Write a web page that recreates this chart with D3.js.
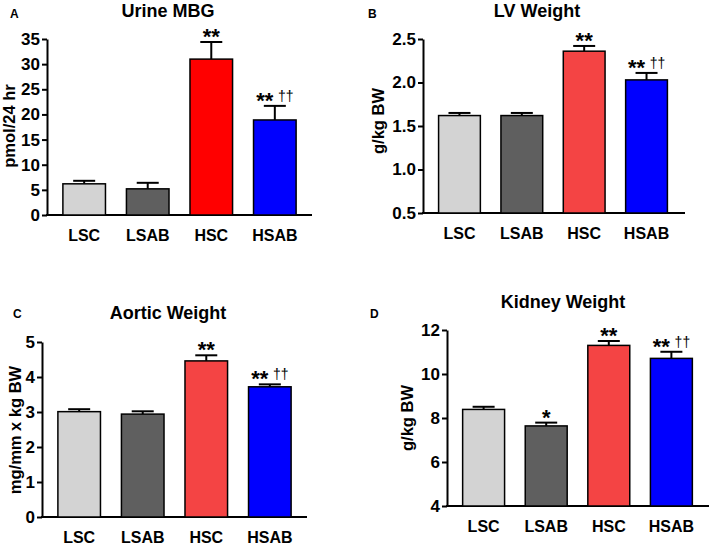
<!DOCTYPE html>
<html>
<head>
<meta charset="utf-8">
<script src="https://cdn.jsdelivr.net/npm/d3@7"></script>
<style>
  body { margin: 0; background: #fff; }
  svg { display: block; font-family: "Liberation Sans", Arial, sans-serif; }
  .axis path, .axis line { stroke: #000; stroke-width: 2px; }
  .axis text { font-size: 17px; font-weight: bold; fill: #000; font-family: "Liberation Sans", Arial, sans-serif; }
  .axis.x text { font-size: 16px; }
</style>
</head>
<body>
<svg width="709" height="550"></svg>
<script>
const grupos = ["LSC", "LSAB", "HSC", "HSAB"];

// valores (media e topo da barra de erro)
const urina_mbg     = [6.2, 5.2, 31.0, 18.9];
const urina_mbg_err = [6.8, 6.4, 34.4, 21.7];
const peso_vent     = [1.62, 1.62, 2.36, 2.03];
const peso_vent_err = [1.65, 1.65, 2.42, 2.11];
const peso_aorta     = [3.01, 2.94, 4.46, 3.72];
const peso_aorta_err = [3.08, 3.02, 4.62, 3.79];
const peso_rim     = [8.39, 7.64, 11.30, 10.71];
const peso_rim_err = [8.51, 7.79, 11.50, 11.01];

const ticks_a = [0, 5, 10, 15, 20, 25, 30, 35];
const ticks_b = [0.5, 1.0, 1.5, 2.0, 2.5];
const ticks_c = [0, 1, 2, 3, 4, 5];
const ticks_d = [4, 6, 8, 10, 12];

const sig_estrela = ["", "", "**", "**"];
const sig_estrela_d = ["", "*", "**", "**"];
const sig_adaga = ["", "", "", "††"];

const cores_a = ["#d3d3d3", "#5f5f5f", "#ff0000", "#0000ff"];
const cores   = ["#d3d3d3", "#5f5f5f", "#f44444", "#0000ff"];

const svg = d3.select("svg");

function desenha_painel(p) {
    const g = svg.append("g");

    const x = d3.scaleBand()
        .domain(grupos)
        .range([p.x0, p.x1])
        .paddingInner(0.33)
        .paddingOuter(0.25);

    const y = d3.scaleLinear()
        .domain(p.dominio)
        .range([p.y0, p.y1]);

    g.append("g")
        .attr("class", "axis y")
        .attr("transform", "translate(" + p.x0 + ",0)")
        .call(d3.axisLeft(y).tickValues(p.ticks).tickSize(5).tickSizeOuter(0).tickPadding(2)
            .tickFormat(p.fmt));

    g.append("g")
        .attr("class", "axis x")
        .attr("transform", "translate(0," + p.y0 + ")")
        .call(d3.axisBottom(x).tickSize(0).tickSizeOuter(0).tickPadding(15))
        .call(s => s.select(".domain").attr("d", "M" + (p.x0 - 1) + ",0H" + p.xfim));

    // barras de erro (so para cima)
    grupos.forEach((k, i) => {
        const cx = x(k) + x.bandwidth() / 2;
        g.append("line")
            .attr("x1", cx).attr("x2", cx)
            .attr("y1", y(p.valores[i])).attr("y2", y(p.erros[i]))
            .attr("stroke", "#000").attr("stroke-width", 2);
        g.append("line")
            .attr("x1", cx - 11).attr("x2", cx + 11)
            .attr("y1", y(p.erros[i])).attr("y2", y(p.erros[i]))
            .attr("stroke", "#000").attr("stroke-width", 2);
    });

    g.selectAll("rect.barra")
        .data(p.valores)
        .enter()
        .append("rect")
        .attr("class", "barra")
        .attr("x", (d, i) => x(grupos[i]))
        .attr("y", d => y(d))
        .attr("width", x.bandwidth())
        .attr("height", d => p.y0 - y(d))
        .attr("fill", (d, i) => p.cores[i])
        .attr("stroke", "#000")
        .attr("stroke-width", 1.5);

    // asteriscos e adagas
    grupos.forEach((k, i) => {
        const cx = x(k) + x.bandwidth() / 2;
        const tem_adaga = sig_adaga[i] !== "";
        if (p.estrelas[i]) {
            g.append("text")
                .attr("x", cx - (tem_adaga ? 10 : 0))
                .attr("y", y(p.erros[i]) + 2)
                .attr("text-anchor", "middle")
                .attr("font-size", 22)
                .attr("font-weight", "bold")
                .attr("fill", "#000")
                .text(p.estrelas[i]);
        }
        if (tem_adaga) {
            g.append("text")
                .attr("x", cx + 11)
                .attr("y", y(p.erros[i]) - 5)
                .attr("text-anchor", "middle")
                .attr("font-size", 14)
                .attr("fill", "#000")
                .text(sig_adaga[i]);
        }
    });

    g.append("text")
        .attr("x", p.tx).attr("y", p.ty)
        .attr("text-anchor", "middle")
        .attr("font-size", 18)
        .attr("font-weight", "bold")
        .text(p.titulo);

    g.append("text")
        .attr("x", p.lx).attr("y", p.ly)
        .attr("font-size", 12)
        .attr("font-weight", "bold")
        .text(p.letra);

    g.append("text")
        .attr("transform", "translate(" + p.yx + "," + p.yy + ") rotate(-90)")
        .attr("text-anchor", "middle")
        .attr("font-size", 16.5)
        .attr("font-weight", "bold")
        .text(p.rotulo);
}

desenha_painel({
    x0: 47, x1: 312, xfim: 312, y0: 215, y1: 39,
    dominio: [0, 35], ticks: ticks_a, fmt: d3.format("d"),
    valores: urina_mbg, erros: urina_mbg_err, cores: cores_a, estrelas: sig_estrela,
    titulo: "Urine MBG", tx: 168, ty: 17, letra: "A", lx: 10, ly: 18,
    rotulo: "pmol/24 hr", yx: 15, yy: 126
});

desenha_painel({
    x0: 423, x1: 683, xfim: 685, y0: 213, y1: 39,
    dominio: [0.5, 2.5], ticks: ticks_b, fmt: d3.format(".1f"),
    valores: peso_vent, erros: peso_vent_err, cores: cores, estrelas: sig_estrela,
    titulo: "LV Weight", tx: 537, ty: 17, letra: "B", lx: 368, ly: 18,
    rotulo: "g/kg BW", yx: 384, yy: 121
});

desenha_painel({
    x0: 42, x1: 307, xfim: 307, y0: 517, y1: 342,
    dominio: [0, 5], ticks: ticks_c, fmt: d3.format("d"),
    valores: peso_aorta, erros: peso_aorta_err, cores: cores, estrelas: sig_estrela,
    titulo: "Aortic Weight", tx: 168, ty: 319, letra: "C", lx: 13, ly: 318,
    rotulo: "mg/mm x kg BW", yx: 21, yy: 430
});

desenha_painel({
    x0: 447, x1: 708, xfim: 709, y0: 506, y1: 330,
    dominio: [4, 12], ticks: ticks_d, fmt: d3.format("d"),
    valores: peso_rim, erros: peso_rim_err, cores: cores, estrelas: sig_estrela_d,
    titulo: "Kidney Weight", tx: 563, ty: 308, letra: "D", lx: 370, ly: 318,
    rotulo: "g/kg BW", yx: 413, yy: 418
});
</script>
</body>
</html>
